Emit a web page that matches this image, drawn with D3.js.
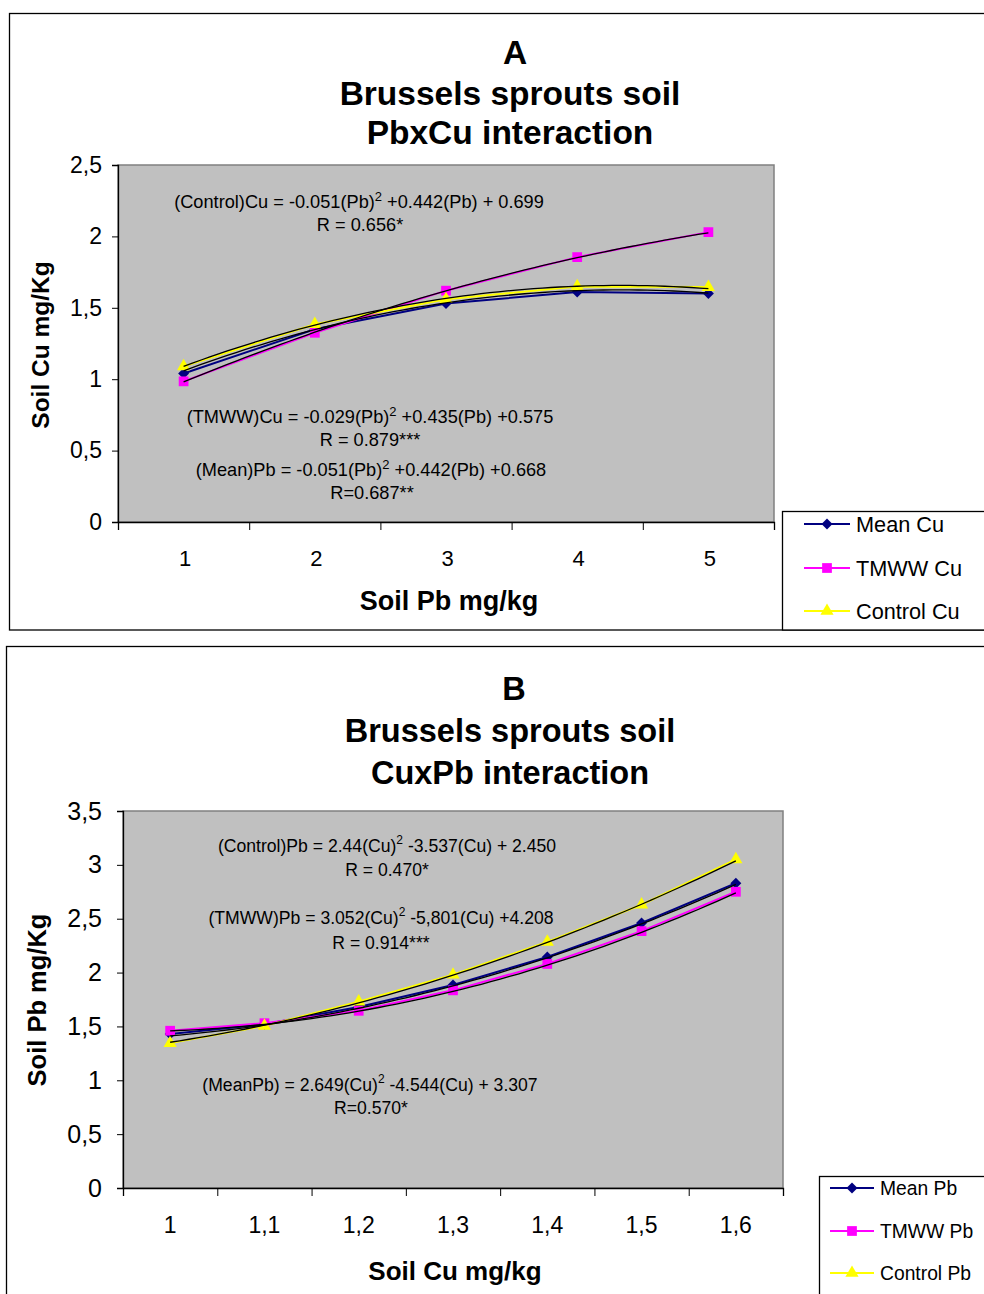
<!DOCTYPE html>
<html>
<head>
<meta charset="utf-8">
<title>Brussels sprouts soil - PbxCu / CuxPb interaction</title>
<script src="https://cdn.jsdelivr.net/npm/d3@7"></script>
<style>
    body { margin: 0; background: #fff; }
    svg text { font-family: "Liberation Sans", Arial, sans-serif; fill: #000; }
</style>
</head>
<body>
<svg id="chart" width="984" height="1294"></svg>
<script>
// ---- panel A : soil Pb (x) vs soil Cu (y)
let pbLevels = [1, 2, 3, 4, 5];
let meanCu = [1.04, 1.35, 1.53, 1.61, 1.60];
let tmwwCu = [0.985, 1.325, 1.62, 1.855, 2.03];
let controlCu = [1.09, 1.385, 1.56, 1.65, 1.645];
let yTicksA = [0, 0.5, 1, 1.5, 2, 2.5];
// trendline coefficients [a, b, c] -> a*x^2 + b*x + c (from the equations on the chart)
let trendMeanA = [-0.051, 0.442, 0.668];
let trendTmwwA = [-0.029, 0.435, 0.575];
let trendControlA = [-0.051, 0.442, 0.699];
let eqA = [
    ["(Control)Cu = -0.051(Pb)", "2", " +0.442(Pb) + 0.699"],
    ["R = 0.656*"],
    ["(TMWW)Cu = -0.029(Pb)", "2", " +0.435(Pb) +0.575"],
    ["R = 0.879***"],
    ["(Mean)Pb = -0.051(Pb)", "2", " +0.442(Pb) +0.668"],
    ["R=0.687**"]
];
let legendA = ["Mean Cu", "TMWW Cu", "Control Cu"];

// ---- panel B : soil Cu (x) vs soil Pb (y)
let cuLevels = [1, 1.1, 1.2, 1.3, 1.4, 1.5, 1.6];
let meanPb = [1.43, 1.52, 1.68, 1.885, 2.145, 2.46, 2.83];
let tmwwPb = [1.46, 1.53, 1.645, 1.835, 2.08, 2.385, 2.75];
let controlPb = [1.345, 1.505, 1.73, 1.98, 2.285, 2.63, 3.05];
let yTicksB = [0, 0.5, 1, 1.5, 2, 2.5, 3, 3.5];
let trendMeanB = [2.649, -4.544, 3.307];
let trendTmwwB = [3.052, -5.801, 4.208];
let trendControlB = [2.44, -3.537, 2.450];
let eqB = [
    ["(Control)Pb = 2.44(Cu)", "2", " -3.537(Cu) + 2.450"],
    ["R = 0.470*"],
    ["(TMWW)Pb = 3.052(Cu)", "2", " -5,801(Cu) +4.208"],
    ["R = 0.914***"],
    ["(MeanPb) = 2.649(Cu)", "2", " -4.544(Cu) + 3.307"],
    ["R=0.570*"]
];
let legendB = ["Mean Pb", "TMWW Pb", "Control Pb"];

let colors = ["#000080", "#ff00ff", "#ffff00"];
let symbols = ["diamond", "square", "triangle"];

let svg = d3.select("#chart");
let comma = d => String(d).replace(".", ",");

function markerPath(kind) {
    if (kind == "triangle") return d3.symbol(d3.symbolTriangle, 75)();
    return d3.symbol(d3.symbolSquare, kind == "diamond" ? 60 : 95)();
}

function drawPanel(cfg) {
    let g = svg.append("g");
    let f = cfg.fonts;

    // outer frame
    g.append("rect")
        .attr("x", cfg.frame[0]).attr("y", cfg.frame[1])
        .attr("width", cfg.frame[2]).attr("height", cfg.frame[3])
        .attr("fill", "none").attr("stroke", "#000").attr("stroke-width", 1.3);

    // titles
    cfg.titles.forEach((t, i) => {
        g.append("text")
            .attr("x", cfg.titleX[i]).attr("y", cfg.titleY[i])
            .attr("text-anchor", "middle").attr("dominant-baseline", "central")
            .style("font-size", f.title + "px").style("font-weight", "bold")
            .text(t);
    });

    let p = cfg.plot;
    let x = d3.scaleLinear().domain(cfg.xDomain).range([p.left, p.right]);
    let y = d3.scaleLinear().domain([0, d3.max(cfg.yTicks)]).range([p.bottom, p.top]);

    // plot area
    g.append("rect")
        .attr("x", p.left).attr("y", p.top)
        .attr("width", p.right - p.left).attr("height", p.bottom - p.top)
        .attr("fill", "#c0c0c0").attr("stroke", "#808080").attr("stroke-width", 1.5);

    // y axis
    let yAxis = g.append("g")
        .attr("transform", "translate(" + p.left + ",0)")
        .call(d3.axisLeft(y).tickValues(cfg.yTicks).tickSize(6).tickPadding(cfg.yPad).tickFormat(comma));
    yAxis.select(".domain").attr("stroke-width", 1.3);
    yAxis.selectAll("text").style("font-size", f.yTick + "px").style("font-family", "Liberation Sans, Arial, sans-serif");

    // x axis: ticks between categories, labels at category centres
    let step = cfg.xLevels[1] - cfg.xLevels[0];
    let bounds = cfg.xLevels.map(v => v - step / 2).concat([cfg.xLevels[cfg.xLevels.length - 1] + step / 2]);
    let xAxis = g.append("g")
        .attr("transform", "translate(0," + p.bottom + ")")
        .call(d3.axisBottom(x).tickValues(bounds).tickSize(8).tickFormat(""));
    xAxis.select(".domain").attr("stroke-width", 1.3);
    g.selectAll(".xlab")
        .data(cfg.xLevels)
        .enter().append("text")
        .attr("x", d => x(d) + cfg.xLabelShift).attr("y", cfg.xLabelY)
        .attr("text-anchor", "middle").attr("dominant-baseline", "central")
        .style("font-size", f.xTick + "px")
        .text(comma);

    // axis titles
    g.append("text")
        .attr("x", cfg.xTitle[0]).attr("y", cfg.xTitle[1])
        .attr("text-anchor", "middle").attr("dominant-baseline", "central")
        .style("font-size", f.xTitle + "px").style("font-weight", "bold")
        .text(cfg.xTitleText);
    g.append("text")
        .attr("transform", "translate(" + cfg.yTitle[0] + "," + cfg.yTitle[1] + ") rotate(-90)")
        .attr("text-anchor", "middle").attr("dominant-baseline", "central")
        .style("font-size", f.yTitle + "px").style("font-weight", "bold")
        .text(cfg.yTitleText);

    // series lines + markers
    let line = d3.line().x(d => x(d[0])).y(d => y(d[1]));
    cfg.series.forEach((s, i) => {
        let pts = cfg.xLevels.map((v, j) => [v, s[j]]);
        g.append("path").datum(pts)
            .attr("d", line).attr("fill", "none")
            .attr("stroke", colors[i]).attr("stroke-width", 2);
    });
    cfg.series.forEach((s, i) => {
        g.selectAll(".m" + i)
            .data(cfg.xLevels.map((v, j) => [v, s[j]]))
            .enter().append("path")
            .attr("d", markerPath(symbols[i]))
            .attr("transform", d => "translate(" + x(d[0]) + "," + y(d[1]) + ")" + (symbols[i] == "diamond" ? " rotate(45)" : ""))
            .attr("fill", colors[i]);
    });

    // polynomial trendlines (black)
    let x0 = cfg.xLevels[0], x1 = cfg.xLevels[cfg.xLevels.length - 1];
    cfg.trends.forEach(c => {
        let pts = d3.range(0, 61).map(k => {
            let xv = x0 + (x1 - x0) * k / 60;
            return [xv, c[0] * xv * xv + c[1] * xv + c[2]];
        });
        g.append("path").datum(pts)
            .attr("d", line).attr("fill", "none")
            .attr("stroke", "#000").attr("stroke-width", 1.3);
    });

    // equation labels
    cfg.equations.forEach((e, i) => {
        let t = g.append("text")
            .attr("x", cfg.eqPos[i][0]).attr("y", cfg.eqPos[i][1])
            .attr("text-anchor", "middle").attr("dominant-baseline", "central")
            .style("font-size", f.eq + "px");
        t.append("tspan").text(e[0]);
        if (e.length > 1) {
            t.append("tspan").attr("dy", -6).style("font-size", Math.round(f.eq * 0.7) + "px").text(e[1]);
            t.append("tspan").attr("dy", 6).text(e[2]);
        }
    });

    // legend
    let L = cfg.legend;
    g.append("rect")
        .attr("x", L.x).attr("y", L.y).attr("width", 300).attr("height", L.h)
        .attr("fill", "#fff").attr("stroke", "#000").attr("stroke-width", 1.3);
    cfg.legendText.forEach((name, i) => {
        let ly = L.rows[i];
        g.append("line")
            .attr("x1", L.lineX[0]).attr("x2", L.lineX[1])
            .attr("y1", ly).attr("y2", ly)
            .attr("stroke", colors[i]).attr("stroke-width", 2);
        g.append("path")
            .attr("d", markerPath(symbols[i]))
            .attr("transform", "translate(" + (L.lineX[0] + L.lineX[1]) / 2 + "," + ly + ")" + (symbols[i] == "diamond" ? " rotate(45)" : ""))
            .attr("fill", colors[i]);
        g.append("text")
            .attr("x", L.textX).attr("y", ly)
            .attr("dominant-baseline", "central")
            .style("font-size", f.legend + "px")
            .text(name);
    });
}

drawPanel({
    frame: [9.5, 13.5, 1000, 616.5],
    titles: ["A", "Brussels sprouts soil", "PbxCu interaction"],
    titleX: [515, 510, 510], titleY: [52, 93, 132],
    plot: { left: 118, right: 774, top: 165, bottom: 522 },
    xDomain: [0.5, 5.5], xLevels: pbLevels, xLabelY: 558, xLabelShift: 1.5,
    yTicks: yTicksA, yPad: 10,
    xTitle: [449, 601], xTitleText: "Soil Pb mg/kg",
    yTitle: [40, 345], yTitleText: "Soil Cu mg/Kg",
    series: [meanCu, tmwwCu, controlCu],
    trends: [trendMeanA, trendTmwwA, trendControlA],
    equations: eqA,
    eqPos: [[359, 202], [360, 225], [370, 417], [370, 440], [371, 470], [372, 493]],
    legend: { x: 782.5, y: 511.5, h: 118.5, rows: [524, 568, 611], lineX: [804, 850], textX: 856 },
    legendText: legendA,
    fonts: { title: 33.5, xTick: 22, yTick: 23, xTitle: 27, yTitle: 24.5, eq: 18.2, legend: 21.7 }
});

drawPanel({
    frame: [6.5, 646.5, 1000, 700],
    titles: ["B", "Brussels sprouts soil", "CuxPb interaction"],
    titleX: [514, 510, 510], titleY: [689, 731, 773],
    plot: { left: 123, right: 783, top: 811, bottom: 1188 },
    xDomain: [0.95, 1.65], xLevels: cuLevels, xLabelY: 1225, xLabelShift: 0,
    yTicks: yTicksB, yPad: 15,
    xTitle: [455, 1271], xTitleText: "Soil Cu mg/kg",
    yTitle: [37, 1000], yTitleText: "Soil Pb mg/Kg",
    series: [meanPb, tmwwPb, controlPb],
    trends: [trendMeanB, trendTmwwB, trendControlB],
    equations: eqB,
    eqPos: [[387, 846], [387, 870], [381, 918], [381, 943], [370, 1085], [371, 1108]],
    legend: { x: 819.5, y: 1176.5, h: 200, rows: [1188, 1231, 1273], lineX: [830, 874], textX: 880 },
    legendText: legendB,
    fonts: { title: 32.5, xTick: 23, yTick: 25, xTitle: 26, yTitle: 25.5, eq: 17.6, legend: 19.3 }
});
</script>
</body>
</html>
